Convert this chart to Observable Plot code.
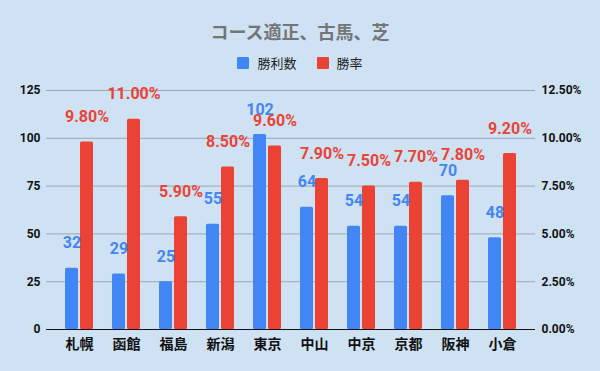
<!DOCTYPE html>
<html>
<head>
<meta charset="utf-8">
<script src="https://cdn.jsdelivr.net/npm/d3@7"></script>
<script src="https://cdn.jsdelivr.net/npm/@observablehq/plot@0.6"></script>
<style>
  html, body { margin: 0; padding: 0; background: #cfe2f3; }
  body { width: 600px; height: 371px; overflow: hidden; font-family: Roboto, "Noto Sans CJK JP", sans-serif; }
  #header { height: 80px; position: relative; }
  #title { position: absolute; top: 18px; left: 0; width: 600px; text-align: center; font-size: 18px; font-weight: bold; color: #757575; font-family: "Noto Sans CJK JP", sans-serif; }
  #legend { position: absolute; top: 53px; left: 0; width: 600px; display: flex; justify-content: center; align-items: center; font-size: 13px; color: #222; font-family: "Noto Sans CJK JP", sans-serif; }
  .sw { width: 12px; height: 12px; display: inline-block; margin-right: 8px; border-radius: 1px; }
  .item { display: flex; align-items: center; margin: 0 10px; }
</style>
</head>
<body>
<div id="header">
  <div id="title"></div>
  <div id="legend"></div>
</div>
<div id="chart"></div>
<script>
const titleText = "コース適正、古馬、芝";
const courses = ["札幌", "函館", "福島", "新潟", "東京", "中山", "中京", "京都", "阪神", "小倉"];
const wins = [32, 29, 25, 55, 102, 64, 54, 54, 70, 48];
const rates = [9.80, 11.00, 5.90, 8.50, 9.60, 7.90, 7.50, 7.70, 7.80, 9.20];
const seriesNames = ["勝利数", "勝率"];
const seriesColors = ["#4285f4", "#ea4335"];
const leftTicks = [0, 25, 50, 75, 100, 125];
const rightTickLabels = ["0.00%", "2.50%", "5.00%", "7.50%", "10.00%", "12.50%"];

document.getElementById("title").textContent = titleText;
const leg = document.getElementById("legend");
seriesNames.forEach((n, i) => {
  const it = document.createElement("div");
  it.className = "item";
  it.innerHTML = `<span class="sw" style="background:${seriesColors[i]}"></span><span>${n}</span>`;
  leg.appendChild(it);
});

const data = courses.map((c, i) => ({course: c, wins: wins[i], rate: rates[i], rateScaled: rates[i] * 10}));

const chart = Plot.plot({
  width: 600,
  height: 291,
  marginTop: 10,
  marginBottom: 42,
  marginLeft: 46,
  marginRight: 65,
  style: {background: "transparent", fontFamily: 'Roboto, "Noto Sans CJK JP", sans-serif'},
  x: {domain: courses, paddingInner: 0.408, paddingOuter: 0.373, label: null},
  y: {domain: [0, 125], label: null},
  marks: [
    Plot.ruleY(leftTicks.slice(1), {stroke: "#9aa7b3", strokeWidth: 1}),
    Plot.axisY({anchor: "left", ticks: leftTicks, tickSize: 0, tickPadding: 6, fontSize: 12, fontWeight: "bold", fill: "#111", label: null}),
    Plot.axisY({anchor: "right", ticks: leftTicks, tickFormat: (d) => rightTickLabels[leftTicks.indexOf(d)], tickSize: 0, tickPadding: 6, fontSize: 12, fontWeight: "bold", fill: "#111", label: null}),
    Plot.axisX({anchor: "bottom", tickSize: 0, tickPadding: 10, fontSize: 14, fontWeight: "bold", fill: "#111", label: null, fontFamily: '"Noto Sans CJK JP", sans-serif'}),
    Plot.barY(data, {x: "course", y: "wins", fill: seriesColors[0], insetRight: 15, rx: 1.5}),
    Plot.barY(data, {x: "course", y: "rateScaled", fill: seriesColors[1], insetLeft: 15, rx: 1.5}),
    Plot.ruleY([0], {stroke: "#111", strokeWidth: 1.2}),
    Plot.text(data, {x: "course", y: "wins", text: d => String(d.wins), dx: -7.5, dy: -25, fill: seriesColors[0], fontSize: 16, fontWeight: "bold", lineAnchor: "middle"}),
    Plot.text(data, {x: "course", y: "rateScaled", text: d => d.rate.toFixed(2) + "%", dx: 7.5, dy: -25, fill: seriesColors[1], fontSize: 16, fontWeight: "bold", lineAnchor: "middle"})
  ]
});
document.getElementById("chart").appendChild(chart);
</script>
</body>
</html>
